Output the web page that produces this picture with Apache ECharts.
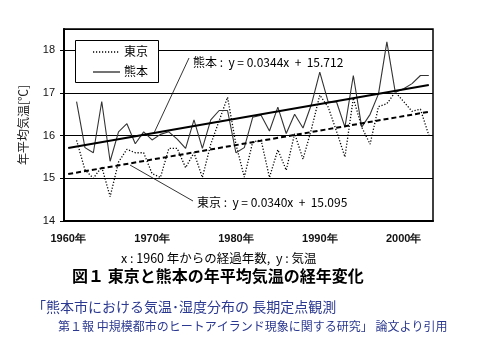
<!DOCTYPE html>
<html><head><meta charset="utf-8">
<script src="https://cdn.jsdelivr.net/npm/echarts@6/dist/echarts.min.js"></script>
<style>html,body{margin:0;padding:0;background:#fff;}#c{width:489px;height:344px;}</style>
</head><body><div id="c"></div>
<script>
// categories (years)
const years = ['1960年','1961年','1962年','1963年','1964年','1965年','1966年','1967年','1968年','1969年',
  '1970年','1971年','1972年','1973年','1974年','1975年','1976年','1977年','1978年','1979年',
  '1980年','1981年','1982年','1983年','1984年','1985年','1986年','1987年','1988年','1989年',
  '1990年','1991年','1992年','1993年','1994年','1995年','1996年','1997年','1998年','1999年',
  '2000年','2001年','2002年','2003年'];
// annual mean temperature [°C] (no data for 1960)
const tokyo = [null,15.89,15.2,15.0,15.27,14.57,15.38,15.68,15.6,15.6,
  15.11,15.02,15.7,15.7,15.25,15.6,15.02,15.8,16.35,16.9,
  15.8,15.03,15.85,15.9,15.02,15.67,15.19,16.05,15.45,16.15,
  16.95,16.67,16.1,15.5,16.88,16.2,15.8,16.68,16.75,17.02,
  16.8,16.57,16.62,16.01];
const kumamoto = [null,16.8,15.72,15.6,16.8,15.4,16.09,16.28,15.81,16.09,
  15.9,16.03,16.09,15.92,15.7,16.37,15.7,16.37,16.59,16.59,
  15.6,15.72,16.43,16.48,16.11,16.67,16.05,16.5,16.18,16.73,
  17.49,16.79,16.79,16.2,17.41,16.2,16.5,16.98,18.2,17.02,
  17.1,17.22,17.41,17.41];
// trend line end values (1960, 2003)
const trendYears = ['1960年','2003年'];
const tokyoTrend = [15.10, 16.56];
const kumamotoTrend = [15.71, 17.19];
const yTicks = [14,15,16,17,18];
const seriesNames = ['東京', '熊本'];

const JP = '"Noto Sans CJK JP", sans-serif';
const TOKYO_DASH = [1.2, 1.8];
const chart = echarts.init(document.getElementById('c'));
chart.setOption({
  animation: false,
  backgroundColor: '#fff',
  grid: {left: 64, right: 56, top: 29, bottom: 123, show: true, borderColor: '#000', borderWidth: 1.5, containLabel: false, outerBoundsMode: 'none'},
  xAxis: {
    type: 'category', data: years, boundaryGap: true,
    axisLine: {lineStyle: {color: '#000', width: 2}},
    axisTick: {inside: true, length: 4, interval: 4, lineStyle: {color: '#000', width: 1}},
    axisLabel: {interval: 9, margin: 12, fontSize: 11, fontWeight: 'bold', color: '#111', fontFamily: 'Liberation Sans, Arial, sans-serif'},
    splitLine: {show: false}
  },
  yAxis: {
    type: 'value', min: yTicks[0], max: 18.5, interval: 1,
    name: '年平均気温[℃]', nameLocation: 'middle', nameGap: 35, nameRotate: 90,
    nameTextStyle: {fontSize: 12, fontFamily: JP, color: '#222'},
    axisLine: {show: true, lineStyle: {color: '#000', width: 2}},
    axisTick: {show: true, length: 4, lineStyle: {color: '#000'}},
    axisLabel: {margin: 9, fontSize: 11, color: '#111', showMaxLabel: false, fontFamily: 'Liberation Sans, Arial, sans-serif',
      formatter: v => (yTicks.indexOf(v) >= 0 ? String(v) : '')},
    splitLine: {show: true, lineStyle: {color: '#000', width: 1}}
  },
  series: [
    {name: seriesNames[0], type: 'line', data: tokyo, symbol: 'none',
      lineStyle: {color: '#000', width: 1.3, type: TOKYO_DASH}, z: 3},
    {name: seriesNames[1], type: 'line', data: kumamoto, symbol: 'none',
      lineStyle: {color: '#333', width: 1.1, type: 'solid'}, z: 3},
    {name: 'trendK', type: 'line', symbol: 'none', silent: true,
      data: trendYears.map((y, i) => [y, kumamotoTrend[i]]),
      lineStyle: {color: '#000', width: 2}, z: 4},
    {name: 'trendT', type: 'line', symbol: 'none', silent: true,
      data: trendYears.map((y, i) => [y, tokyoTrend[i]]),
      lineStyle: {color: '#000', width: 2, type: [5, 3]}, z: 4}
  ],
  graphic: [
    // legend box
    {type: 'rect', shape: {x: 75.5, y: 40.5, width: 83, height: 42}, style: {fill: '#fff', stroke: '#000', lineWidth: 1}, z: 20},
    {type: 'line', shape: {x1: 93, y1: 52, x2: 120, y2: 52}, style: {stroke: '#000', lineWidth: 1.3, lineDash: TOKYO_DASH}, z: 21},
    {type: 'line', shape: {x1: 93, y1: 72, x2: 120, y2: 72}, style: {stroke: '#000', lineWidth: 1.1}, z: 21},
    {type: 'text', left: 124, top: 45, style: {text: seriesNames[0], fontSize: 12, fontFamily: JP, fill: '#000'}, z: 21},
    {type: 'text', left: 124, top: 65, style: {text: seriesNames[1], fontSize: 12, fontFamily: JP, fill: '#000'}, z: 21},
    // trend equation labels
    {type: 'line', shape: {x1: 154, y1: 133, x2: 189, y2: 58}, style: {stroke: '#000', lineWidth: 0.8}, z: 10},
    {type: 'line', shape: {x1: 130, y1: 165, x2: 193, y2: 201}, style: {stroke: '#000', lineWidth: 0.8}, z: 10},
    {type: 'text', left: 193, top: 56, style: {text: '熊本 :  y = 0.0344x  +  15.712', fontSize: 12, fontFamily: JP, fill: '#000'}, z: 10},
    {type: 'text', left: 197, top: 196, style: {text: '東京 :  y = 0.0340x  +  15.095', fontSize: 12, fontFamily: JP, fill: '#000'}, z: 10},
    // captions
    {type: 'text', left: 121, top: 252, style: {text: 'x : 1960 年からの経過年数,  y : 気温', fontSize: 12.5, fontFamily: JP, fill: '#000'}},
    {type: 'text', left: 72, top: 268, style: {text: '図１ 東京と熊本の年平均気温の経年変化', fontSize: 16, fontWeight: 'bold', fontFamily: JP, fill: '#000'}},
    {type: 'text', left: 32, top: 300, style: {text: '「熊本市における気温･湿度分布の 長期定点観測', fontSize: 14, fontFamily: JP, fill: '#2b3990'}},
    {type: 'text', left: 58, top: 320, style: {text: '第１報 中規模都市のヒートアイランド現象に関する研究」 論文より引用', fontSize: 12, fontFamily: JP, fill: '#2b3990'}}
  ]
});
</script></body></html>
